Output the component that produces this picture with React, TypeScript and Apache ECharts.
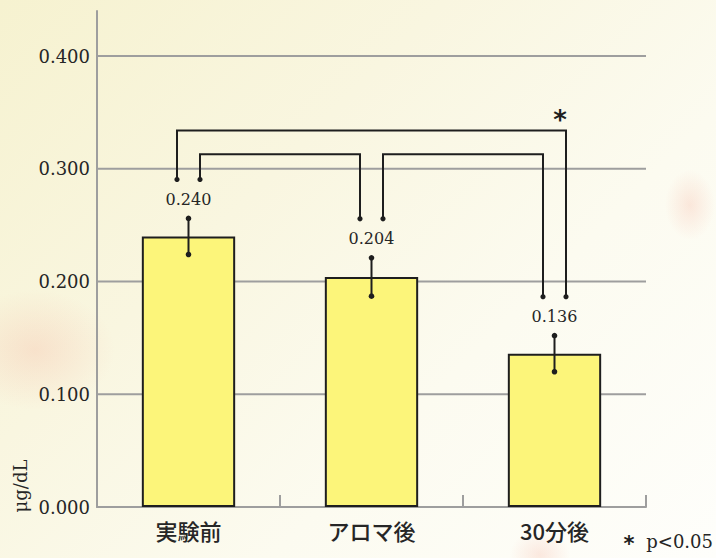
import React, { useEffect, useRef } from "react";
import * as echarts from "echarts";

const categories = ["実験前", "アロマ後", "30分後"];
const means = [0.24, 0.204, 0.136];
const errors = [0.016, 0.017, 0.016];
const valueLabels = ["0.240", "0.204", "0.136"];
const gridTicks = [0.1, 0.2, 0.3, 0.4];
// significance brackets
const bracketFrom = [0, 0, 1];
const bracketTo = [2, 1, 2];
const bracketLevel = [0.334, 0.313, 0.313];
const bracketMark = ["*", "", ""];
const yAxisName = "μg/dL";
const footnoteMark = "*";
const footnoteText = "p<0.05";

const INK = "#1e1e1e";
const AXIS_GRAY = "#9e9e9e";
const SERIF = "'DejaVu Serif', serif";

export default function App() {
  const ref = useRef<HTMLDivElement>(null);

  useEffect(() => {
    if (!ref.current) return;
    const chart = echarts.init(ref.current, undefined, { renderer: "svg" });

    const legEndY = (api: any, idx: number) =>
      api.coord([idx, means[idx] + errors[idx]])[1] - 39;

    const option: any = {
      animation: false,
      backgroundColor: "transparent",
      grid: { left: 97, right: 70, top: 11, bottom: 51, containLabel: false },
      xAxis: {
        type: "category",
        data: categories,
        boundaryGap: true,
        axisLine: { show: true, lineStyle: { color: AXIS_GRAY, width: 2 } },
        axisTick: {
          show: true,
          inside: true,
          length: 12,
          interval: 0,
          lineStyle: { color: AXIS_GRAY, width: 2 },
        },
        axisLabel: {
          interval: 0,
          margin: 12,
          fontSize: 22,
          fontWeight: 500,
          color: "#262626",
          fontFamily: "'Noto Sans CJK JP', sans-serif",
        },
        splitLine: { show: false },
      },
      yAxis: {
        type: "value",
        min: 0,
        max: 0.44,
        interval: 0.1,
        axisLine: { show: true, lineStyle: { color: AXIS_GRAY, width: 2 } },
        axisTick: { show: false },
        splitLine: { show: false },
        axisLabel: {
          margin: 7,
          fontSize: 18,
          color: "#262626",
          fontFamily: SERIF,
          formatter: (v: number) =>
            Math.abs(v * 10 - Math.round(v * 10)) < 1e-6 ? v.toFixed(3) : "",
        },
      },
      series: [
        {
          type: "custom",
          z: 1,
          silent: true,
          data: gridTicks.map((v) => [0, v]),
          renderItem: (params: any, api: any) => {
            const cs = params.coordSys;
            const y = api.coord([0, api.value(1)])[1];
            return {
              type: "line",
              shape: { x1: cs.x, y1: y, x2: cs.x + cs.width, y2: y },
              style: { stroke: AXIS_GRAY, lineWidth: 2 },
            };
          },
        },
        {
          type: "bar",
          z: 2,
          data: means,
          barWidth: "51%",
          itemStyle: { color: "#fcf57a", borderColor: INK, borderWidth: 2 },
        },
        {
          type: "custom",
          z: 3,
          silent: true,
          data: means.map((m, i) => [i, m, errors[i]]),
          renderItem: (params: any, api: any) => {
            const i = api.value(0);
            const m = api.value(1);
            const e = api.value(2);
            const top = api.coord([i, m + e]);
            const bot = api.coord([i, m - e]);
            return {
              type: "group",
              children: [
                {
                  type: "line",
                  shape: { x1: top[0], y1: top[1], x2: bot[0], y2: bot[1] },
                  style: { stroke: INK, lineWidth: 2 },
                },
                { type: "circle", shape: { cx: top[0], cy: top[1], r: 2.8 }, style: { fill: INK } },
                { type: "circle", shape: { cx: bot[0], cy: bot[1], r: 2.8 }, style: { fill: INK } },
                {
                  type: "text",
                  x: top[0],
                  y: top[1] - 19,
                  style: {
                    text: valueLabels[params.dataIndex],
                    fill: "#262626",
                    fontSize: 16,
                    fontFamily: SERIF,
                    align: "center",
                    verticalAlign: "middle",
                  },
                },
              ],
            };
          },
        },
        {
          type: "custom",
          z: 3,
          silent: true,
          data: bracketFrom.map((f, k) => [f, bracketLevel[k], bracketTo[k]]),
          renderItem: (params: any, api: any) => {
            const f = api.value(0);
            const lev = api.value(1);
            const t = api.value(2);
            const span = t - f;
            const fs = span > 1 ? -1 : 1;
            const ts = span > 1 ? 1 : -1;
            const fx = api.coord([f, 0])[0] + fs * 11.5;
            const tx = api.coord([t, 0])[0] + ts * 11.5;
            const ty = api.coord([f, lev])[1];
            const fy = legEndY(api, f);
            const ey = legEndY(api, t);
            const children: any[] = [
              {
                type: "polyline",
                shape: { points: [[fx, fy], [fx, ty], [tx, ty], [tx, ey]] },
                style: { stroke: INK, lineWidth: 2, fill: "none", lineJoin: "miter" },
              },
              { type: "circle", shape: { cx: fx, cy: fy, r: 2.6 }, style: { fill: INK } },
              { type: "circle", shape: { cx: tx, cy: ey, r: 2.6 }, style: { fill: INK } },
            ];
            const mark = bracketMark[params.dataIndex];
            if (mark) {
              children.push({
                type: "text",
                x: tx - 6,
                y: ty - 10,
                style: {
                  text: mark,
                  fill: INK,
                  fontSize: 26,
                  fontWeight: "bold",
                  fontFamily: "'DejaVu Sans', sans-serif",
                  align: "center",
                  verticalAlign: "middle",
                },
              });
            }
            return { type: "group", children };
          },
        },
      ],
      graphic: [
        {
          type: "text",
          x: 20,
          y: 486,
          rotation: Math.PI / 2,
          style: {
            text: yAxisName,
            fill: "#262626",
            fontSize: 18,
            fontFamily: SERIF,
            align: "center",
            verticalAlign: "middle",
          },
        },
        {
          type: "text",
          x: 629,
          y: 544,
          style: {
            text: footnoteMark,
            fill: INK,
            fontSize: 21,
            fontWeight: "bold",
            fontFamily: "'DejaVu Sans', sans-serif",
            align: "center",
            verticalAlign: "middle",
          },
        },
        {
          type: "text",
          x: 713,
          y: 541,
          style: {
            text: footnoteText,
            fill: "#262626",
            fontSize: 18,
            fontFamily: SERIF,
            align: "right",
            verticalAlign: "middle",
          },
        },
      ],
    };

    chart.setOption(option);
    return () => chart.dispose();
  }, []);

  return (
    <div
      ref={ref}
      style={{
        position: "absolute",
        left: 0,
        top: 0,
        width: 716,
        height: 558,
        background:
          "radial-gradient(ellipse 80px 60px at 35px 350px, rgba(245,180,160,0.3), rgba(255,255,255,0) 100%), radial-gradient(ellipse 25px 35px at 690px 205px, rgba(245,170,150,0.25), rgba(255,255,255,0) 100%), radial-gradient(ellipse 30px 25px at 540px 555px, rgba(245,170,150,0.25), rgba(255,255,255,0) 100%), linear-gradient(135deg, #f6f2d0 0%, #f9f6e0 35%, #fcfbf0 65%, #fefefb 100%)",
      }}
    />
  );
}
